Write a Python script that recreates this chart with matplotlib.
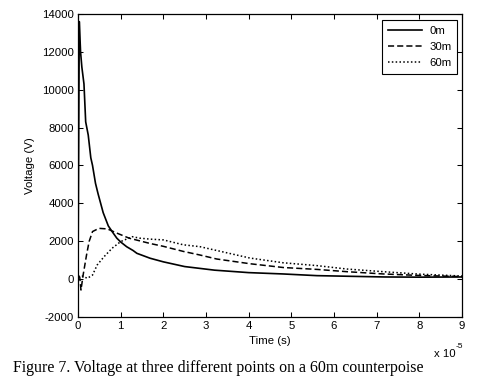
import matplotlib
matplotlib.use("Agg")
import matplotlib.pyplot as plt

# time in units of 1e-5 s
t_0m = [0.0, 0.03, 0.06, 0.09, 0.14, 0.18, 0.24, 0.30, 0.34, 0.41, 0.47, 0.53, 0.59,
        0.71, 0.80, 0.91, 1.0, 1.14, 1.29, 1.38, 1.69, 2.0, 2.5, 3.2, 4.0, 4.8, 5.6,
        6.5, 7.2, 8.0, 9.0]
v_0m = [0, 13600, 12000, 11200, 10300, 8300, 7600, 6400, 6000, 5050, 4500, 4000, 3500,
        2800, 2500, 2150, 1950, 1700, 1500, 1350, 1090, 900, 650, 460, 330, 260, 170,
        130, 100, 90, 100]

t_30m = [0.0, 0.04, 0.07, 0.12, 0.20, 0.26, 0.34, 0.49, 0.69, 0.92, 1.2, 1.69, 2.0,
         2.47, 2.86, 3.25, 4.03, 4.81, 5.6, 6.3, 7.15, 8.0, 9.0]
v_30m = [150, 100, -590, 200, 1260, 1970, 2500, 2670, 2640, 2410, 2150, 1870, 1720,
         1450, 1260, 1050, 800, 600, 500, 380, 260, 180, 120]

t_60m = [0.0, 0.10, 0.22, 0.34, 0.45, 0.61, 0.80, 1.0, 1.27, 1.45, 1.69, 2.0, 2.47,
         2.86, 3.25, 4.03, 4.81, 5.6, 6.3, 7.15, 8.0, 9.0]
v_60m = [150, 150, 30, 200, 735, 1170, 1620, 1970, 2230, 2150, 2100, 2060, 1800,
         1700, 1500, 1100, 850, 700, 520, 380, 250, 150]

series_labels = ["0m", "30m", "60m"]
x_ticks = list(range(0, 10))
y_ticks = list(range(-2000, 14001, 2000))

plt.rcParams['font.family'] = ['Liberation Sans', 'DejaVu Sans']

fig = plt.figure(figsize=(5.01, 3.84), dpi=100)
ax = fig.add_axes([78/501, 1-316.7/384, (462-78)/501, (316.7-14)/384])

ax.plot(t_0m, v_0m, color='black', lw=1.2, ls='-', label=series_labels[0])
ax.plot(t_30m, v_30m, color='black', lw=1.1, ls=(0, (4, 2)), label=series_labels[1])
ax.plot(t_60m, v_60m, color='black', lw=1.1, ls=(0, (1, 1.5)), label=series_labels[2])

ax.set_xlim(0, 9)
ax.set_ylim(-2000, 14000)
ax.set_xticks(x_ticks)
ax.set_yticks(y_ticks)
ax.set_xticklabels([str(v) for v in x_ticks])
ax.set_yticklabels([str(v) for v in y_ticks])
ax.tick_params(direction='in', length=3.5, width=0.75, top=True, right=True,
               labelsize=8.2, pad=3)
for s in ax.spines.values():
    s.set_linewidth(0.9)

ax.set_xlabel("Time (s)", fontsize=8.2, labelpad=4)
ax.set_ylabel("Voltage (V)", fontsize=8.2, labelpad=5)
fig.text(434/501, 1-354/384, "x 10", fontsize=8.2, va='center', ha='left')
fig.text(456/501, 1-347/384, "-5", fontsize=6, va='center', ha='left')

leg = ax.legend(loc='upper right', bbox_to_anchor=(457/501, 1-20/384),
                bbox_transform=fig.transFigure, fontsize=8.2, handlelength=3.0,
                handletextpad=0.6, borderpad=0.5, labelspacing=0.55,
                fancybox=False, framealpha=1, borderaxespad=0)
leg.get_frame().set_edgecolor('black')
leg.get_frame().set_linewidth(0.8)

fig.text(13/501, 1-368/384, "Figure 7. Voltage at three different points on a 60m counterpoise",
         family='Liberation Serif', fontsize=11.4, va='center', ha='left')

fig.savefig("out.png", dpi=100)
